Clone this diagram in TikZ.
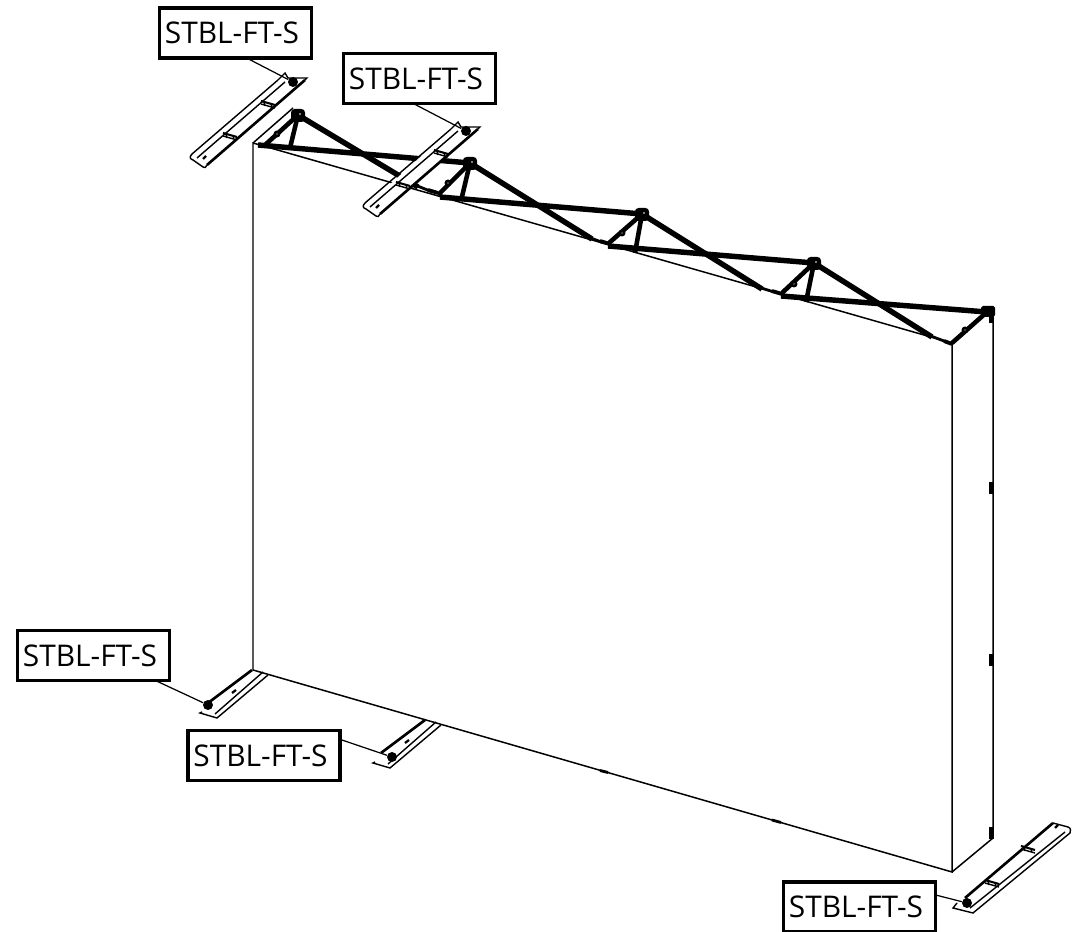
\documentclass[tikz,border=0pt]{standalone}
\usepackage{fontspec}
\setmainfont{Open Sans}
\tikzset{x=0.02cm,y=-0.02cm,
    wallline/.style={line width=0.85pt},
    chordbar/.style={line width=3.1pt},
    strutbar/.style={line width=2.6pt},
    footline/.style={line width=0.8pt},
    footedge/.style={line width=1.5pt},
    partbox/.style={draw,line width=2.2pt,fill=white,inner sep=0pt,outer sep=0pt,
        minimum width=3.04cm,minimum height=1cm,font=\fontsize{17}{19}\selectfont,
        execute at end node=\hspace{0.14cm}},
    leader/.style={line width=0.7pt},
    dotmark/.style={circle,fill=black,inner sep=0pt,minimum size=0.2cm},
    footclip/.pic={
        \draw[line width=1.2pt] (-7,-2) -- (7,2);
        \draw[footline] (-7,1) -- (7,5) (-4,-1) -- (-3,3) (4,1) -- (3,4);
    },
    footlong/.pic={
        \fill[white] (-15,-2) -- (14,-4) -- (-86,83) -- (-90,85) -- (-101,76) -- cycle;
        \draw[footedge] (12,-2) -- (-86,83);
        \draw[footline] (-15,-2) -- (-101,72) .. controls (-104,75) and (-103,77) .. (-100,78) -- (-90,85) .. controls (-88,86) .. (-86,83);
        \draw[footline] (-8,0) -- (-96,76);
        \draw[footline] (-15,-2) -- (-8,-9) -- (-5,-4) -- (14,-4) -- (12,-2);
        \draw[line width=1.3pt] (-90,77) -- (-87,74);
        \foreach \cx/\cy in {-25/21,-63/53}{ \pic at (\cx,\cy) {footclip}; }
    },
    footshort/.pic={
        \draw[footedge] (8,-10) -- (52,-43);
        \draw[footline] (2,-1) -- (0,0) -- (17,5) -- (68,-38);
        \draw[footline] (15,1) -- (63,-41);
        \draw[line width=1.3pt] (32,-20) -- (36,-23);
    },
    footwide/.pic={
        \draw[footedge] (-2,-5) -- (86,-80);
        \draw[footline] (86,-80) -- (101,-76) .. controls (104,-75) and (104,-72) .. (103,-70) -- (6,10) -- (-14,5) -- (-10,0);
        \draw[footline] (98,-71) -- (3,5);
        \draw[line width=1.3pt] (88,-75) -- (91,-78);
        \foreach \cx/\cy in {61/-55,25/-21}{ \pic at (\cx,\cy) {footclip}; }
    },
    }
\begin{document}
\begin{tikzpicture}
\useasboundingbox (0,0) rectangle (1080,932);

% wall
\coordinate (wallTL) at (253,143);
\coordinate (wallTR) at (952,343);
\coordinate (wallBL) at (253,670);
\coordinate (wallBR) at (952,872);
\coordinate (backT) at (993,316);
\coordinate (backB) at (993,838);
\draw[wallline] (wallTR) -- (wallTL) -- (wallBL) -- (wallBR) -- cycle;
\draw[wallline] (wallBR) -- (backB) -- (backT);
\draw[wallline] (wallTL) -- (293,108);
\draw[line width=1.6pt] (600,770.5) -- (608,772.5) (772,820) -- (781,822.5);
\foreach \yclip in {482,654,827}{
    \draw[line width=2.6pt] (991.5,\yclip) -- (991.5,\yclip+12);
}

% truss
\foreach \tname/\tx/\ty in {t1/298/115,t2/470/163,t3/642/214,t4/814/263,t5/987/312}{
    \coordinate (\tname) at (\tx,\ty);
}
\draw[chordbar] (258,145) -- (t2);
\draw[chordbar] (440,197) -- (t3);
\draw[chordbar] (608,246) -- (t4);
\draw[chordbar] (781,296) -- (t5);
\draw[chordbar] (t1) -- (418,187);
\draw[chordbar] (t2) -- (592,239);
\draw[chordbar] (t3) -- (762,289);
\draw[chordbar] (t4) -- (932,337);
\draw[line width=1.6pt] (415,185) -- (430,191) (588,237) -- (604,243) (758,287) -- (774,292) (928,335) -- (944,341);
\draw[strutbar] (t1) -- (265,145);
\draw[strutbar] (t1) -- (290,148);
\draw[strutbar] (t2) -- (438,195);
\draw[strutbar] (t2) -- (461,201);
\draw[strutbar] (t3) -- (609,243);
\draw[strutbar] (t3) -- (635,253);
\draw[strutbar] (t4) -- (782,293);
\draw[strutbar] (t4) -- (806,302);
\draw[strutbar] (t5) -- (952,343);
\draw[line width=2.2pt] (428,190) -- (438,193) (600,241) -- (610,244) (772,291) -- (782,294) (944,341) -- (952,344);
\foreach \bx/\by in {277/134,448/183,622/233,794/284,965/330}{
    \fill (\bx,\by) circle[radius=3.5];
    \fill[white] (\bx,\by) circle[radius=0.6];
}
\foreach \tname in {t1,t2,t3,t4}{
    \fill[rounded corners=2pt] (\tname) +(-7,-6) rectangle +(7,7);
    \fill[white] (\tname) +(2,-1) circle[radius=0.8];
}
\fill[rounded corners=1pt] (t5) +(-6,-6) rectangle +(8,5);
\draw[line width=3pt] (991.5,312) -- (991.5,323);

% feet
\pic at (293,82) {footlong};
\pic at (466,131) {footlong};
\pic at (200,713) {footshort};
\pic at (373,763) {footshort};
\pic at (967,903) {footwide};

% labels
\node[dotmark] (dotA) at (293,82) {};
\node[dotmark] (dotB) at (466,131) {};
\node[dotmark] (dotC) at (208,705) {};
\node[dotmark] (dotD) at (392,757) {};
\node[dotmark] (dotE) at (967,903) {};
\node[partbox] (stblA) at (235.5,33) {STBL-FT-S};
\node[partbox] (stblB) at (419.5,78.5) {STBL-FT-S};
\node[partbox] (stblC) at (93.5,655.5) {STBL-FT-S};
\node[partbox] (stblD) at (264,755.5) {STBL-FT-S};
\node[partbox] (stblE) at (859.5,907) {STBL-FT-S};
\draw[leader] (stblA.-66) -- (dotA);
\draw[leader] (stblB.-104) -- (dotB);
\draw[leader] (stblC.-22.6) -- (dotC);
\draw[leader] (stblD.12.6) -- (dotD);
\draw[leader] (stblE.9.5) -- (dotE);
\end{tikzpicture}
\end{document}
